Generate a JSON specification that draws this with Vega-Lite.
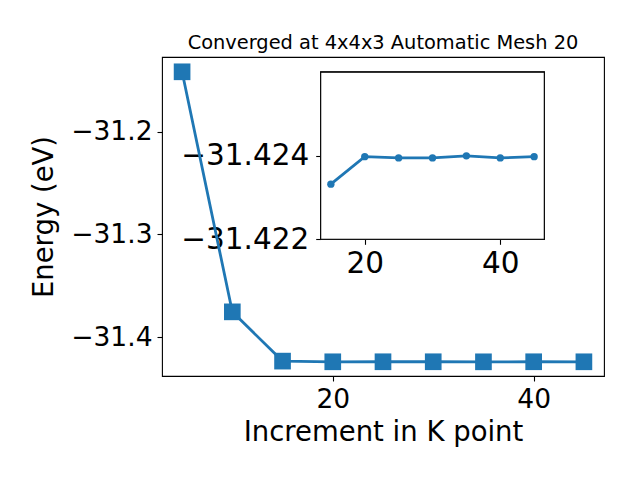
{
  "$schema": "https://vega.github.io/schema/vega-lite/v6.json",
  "width": 442,
  "height": 319,
  "autosize": {"type": "none"},
  "padding": {"left": 162, "top": 57, "right": 36, "bottom": 104},
  "background": "white",
  "title": {
    "text": "Converged at 4x4x3 Automatic Mesh 20",
    "font": "DejaVu Sans",
    "fontSize": 19.4,
    "fontWeight": "normal",
    "color": "black",
    "anchor": "middle",
    "baseline": "alphabetic",
    "offset": -11.5
  },
  "datasets": {
    "main": [
      {"k": 5, "E": -31.1419},
      {"k": 10, "E": -31.3754},
      {"k": 15, "E": -31.42332},
      {"k": 20, "E": -31.42398},
      {"k": 25, "E": -31.42395},
      {"k": 30, "E": -31.42395},
      {"k": 35, "E": -31.424},
      {"k": 40, "E": -31.42395},
      {"k": 45, "E": -31.42398}
    ],
    "inset": [
      {"k": 15, "E": -31.42332},
      {"k": 20, "E": -31.42398},
      {"k": 25, "E": -31.42395},
      {"k": 30, "E": -31.42395},
      {"k": 35, "E": -31.424},
      {"k": 40, "E": -31.42395},
      {"k": 45, "E": -31.42398}
    ]
  },
  "config": {
    "view": {"stroke": "black", "strokeWidth": 1.1},
    "axis": {
      "grid": false,
      "domain": false,
      "labelFont": "DejaVu Sans",
      "titleFont": "DejaVu Sans",
      "labelFontSize": 26.5,
      "titleFontSize": 27.5,
      "titleFontWeight": "normal",
      "labelColor": "black",
      "titleColor": "black",
      "tickColor": "black",
      "tickWidth": 1.1,
      "tickSize": 5,
      "labelPadding": 5,
      "labelFlush": false,
      "labelBound": false,
      "labelOverlap": false
    }
  },
  "layer": [
    {
      "data": {"name": "inset"},
      "mark": {"type": "rect", "fill": "white", "stroke": "black", "strokeWidth": 1.1},
      "encoding": {
        "x": {"datum": 13.5, "type": "quantitative", "scale": {"domain": [13.5, 46.5], "range": [158.7, 382.3], "nice": false, "zero": false}, "axis": null},
        "x2": {"datum": 46.5},
        "y": {"datum": -31.426, "type": "quantitative", "scale": {"domain": [-31.426, -31.422], "range": [15.3, 182.3], "nice": false, "zero": false}, "axis": null},
        "y2": {"datum": -31.422}
      }
    },
    {
      "data": {"name": "inset"},
      "mark": {"type": "line", "color": "#1f77b4", "strokeWidth": 2.8},
      "encoding": {
        "x": {
          "field": "k",
          "type": "quantitative",
          "scale": {"domain": [13.5, 46.5], "range": [158.7, 382.3], "nice": false, "zero": false},
          "axis": {"values": [20, 40], "format": "d", "title": null, "orient": "bottom", "offset": -136.7, "labelFontSize": 29.5, "labelPadding": 5}
        },
        "y": {
          "field": "E",
          "type": "quantitative",
          "scale": {"domain": [-31.426, -31.422], "range": [15.3, 182.3], "nice": false, "zero": false},
          "axis": {"values": [-31.424, -31.422], "format": ".3f", "title": null, "orient": "left", "offset": -158.7, "labelFontSize": 29.5, "labelPadding": 7}
        }
      }
    },
    {
      "data": {"name": "inset"},
      "mark": {"type": "point", "shape": "circle", "size": 54, "filled": true, "color": "#1f77b4", "opacity": 1},
      "encoding": {
        "x": {"field": "k", "type": "quantitative", "scale": {"domain": [13.5, 46.5], "range": [158.7, 382.3], "nice": false, "zero": false}, "axis": null},
        "y": {"field": "E", "type": "quantitative", "scale": {"domain": [-31.426, -31.422], "range": [15.3, 182.3], "nice": false, "zero": false}, "axis": null}
      }
    },
    {
      "data": {"name": "main"},
      "mark": {"type": "line", "color": "#1f77b4", "strokeWidth": 2.8},
      "encoding": {
        "x": {
          "field": "k",
          "type": "quantitative",
          "scale": {"domain": [3, 47], "nice": false, "zero": false},
          "axis": {"values": [20, 40], "format": "d", "title": "Increment in K point", "titlePadding": 6, "orient": "bottom"}
        },
        "y": {
          "field": "E",
          "type": "quantitative",
          "scale": {"domain": [-31.4378, -31.1275], "nice": false, "zero": false},
          "axis": {"values": [-31.4, -31.3, -31.2], "format": ".1f", "title": "Energy (eV)", "titlePadding": 12, "orient": "left"}
        }
      }
    },
    {
      "data": {"name": "main"},
      "mark": {"type": "point", "shape": "square", "size": 278, "filled": true, "color": "#1f77b4", "opacity": 1},
      "encoding": {
        "x": {"field": "k", "type": "quantitative", "scale": {"domain": [3, 47], "nice": false, "zero": false}, "axis": null},
        "y": {"field": "E", "type": "quantitative", "scale": {"domain": [-31.4378, -31.1275], "nice": false, "zero": false}, "axis": null}
      }
    }
  ],
  "resolve": {
    "scale": {"x": "independent", "y": "independent"},
    "axis": {"x": "independent", "y": "independent"}
  }
}
